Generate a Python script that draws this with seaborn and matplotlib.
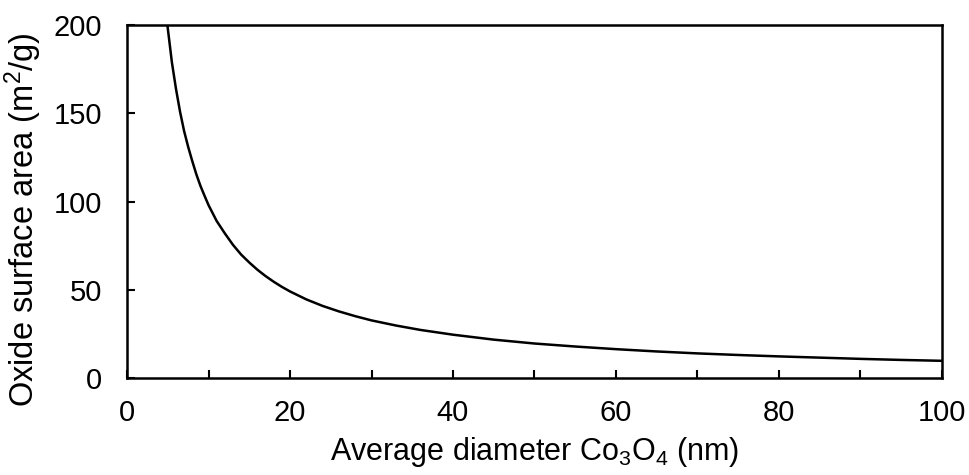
import matplotlib
matplotlib.use("Agg")
import matplotlib.pyplot as plt
import seaborn as sns
import pandas as pd

diameter_nm = [4.95, 5.5, 6, 6.5, 7, 7.5, 8, 8.5, 9, 9.5, 10, 11, 12, 13, 14, 15, 16, 17, 18, 19,
               20, 22, 24, 26, 28, 30, 33, 36, 40, 45, 50, 55, 60, 65, 70, 75, 80, 85, 90, 95, 100]
surface_area = [200, 179, 164, 151, 140, 131, 123, 115.5, 109, 103.4, 98, 89, 82, 75.5, 70, 65.5,
                61.4, 57.8, 54.6, 51.7, 49.1, 44.6, 40.9, 37.8, 35.1, 32.7, 29.8, 27.3, 24.6,
                21.8, 19.6, 17.9, 16.4, 15.1, 14.0, 13.1, 12.3, 11.6, 10.9, 10.3, 9.8]
x_ticks = [0, 20, 40, 60, 80, 100]
y_ticks = [0, 50, 100, 150, 200]

sns.set_style("ticks")
plt.rcParams['font.family'] = ['Liberation Sans', 'DejaVu Sans']
plt.rcParams['mathtext.fontset'] = 'custom'
plt.rcParams['mathtext.rm'] = 'Liberation Sans'
plt.rcParams['mathtext.it'] = 'Liberation Sans'
plt.rcParams['text.color'] = 'black'
plt.rcParams['axes.labelcolor'] = 'black'
plt.rcParams['xtick.labelcolor'] = 'black'
plt.rcParams['ytick.labelcolor'] = 'black'

df = pd.DataFrame({"d": diameter_nm, "sa": surface_area})

fig = plt.figure(figsize=(9.7, 4.75), dpi=100)
ax = fig.add_axes([0.131, 0.204, 0.840, 0.743])
sns.lineplot(data=df, x="d", y="sa", ax=ax, color="black", linewidth=1.8)

ax.set_xlim(0, 100)
ax.set_ylim(0, 200)
ax.set_xticks(x_ticks)
ax.set_xticks([10, 30, 50, 70, 90], minor=True)
ax.set_yticks(y_ticks)
ax.tick_params(axis="both", which="both", direction="in", labelsize=21, color="black",
               labelcolor="black", width=1.5, top=False, right=False)
ax.tick_params(axis="both", which="major", length=6)
ax.tick_params(axis="x", which="minor", length=6)
ax.tick_params(axis="x", pad=15)
ax.tick_params(axis="y", pad=18)
for s in ax.spines.values():
    s.set_linewidth(1.8)
    s.set_color("black")
ax.set_xlabel("Average diameter Co$_3$O$_4$ (nm)", fontsize=22, labelpad=6)
ax.set_ylabel("Oxide surface area (m$^2$/g)", fontsize=23.5)
ax.yaxis.set_label_coords(-0.102, 0.45)

fig.savefig("out.png", dpi=100, facecolor="white")
